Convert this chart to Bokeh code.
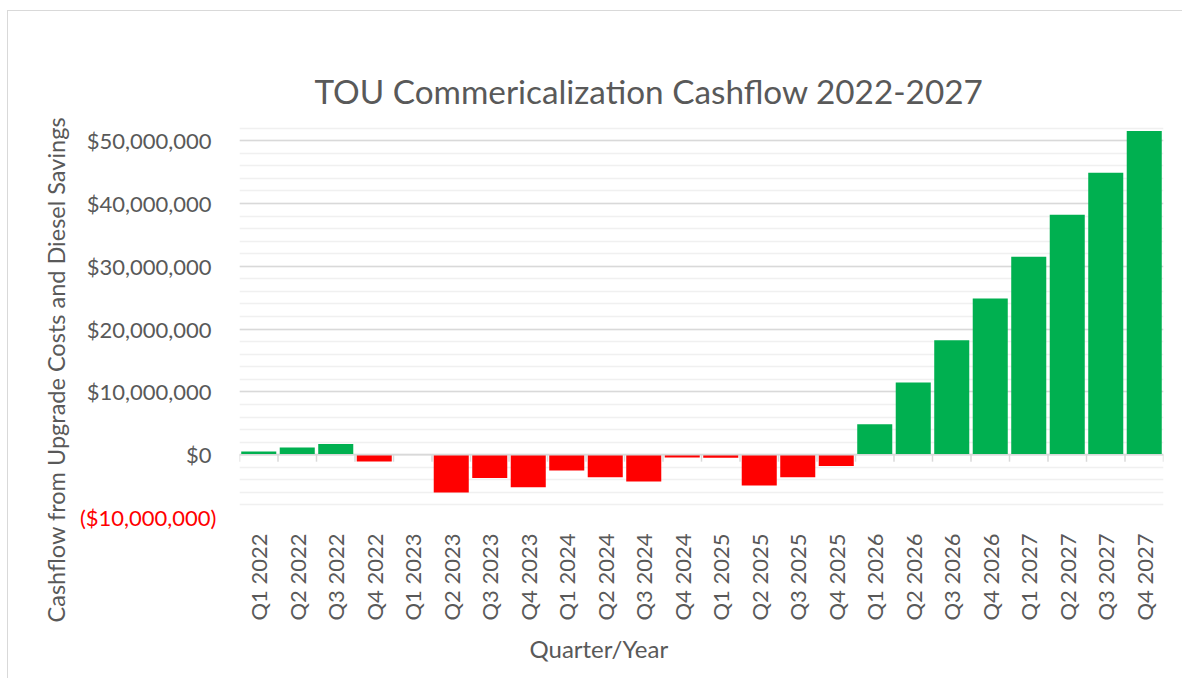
import math
from bokeh.plotting import figure
from bokeh.models import (FactorRange, Range1d, FixedTicker, CustomJSTickFormatter,
                          Span, ColumnDataSource, LinearAxis, Title)
from bokeh.transform import dodge
from bokeh.embed import file_html
from bokeh.resources import INLINE

# ---- data ----
quarters = ["Q1 2022", "Q2 2022", "Q3 2022", "Q4 2022",
            "Q1 2023", "Q2 2023", "Q3 2023", "Q4 2023",
            "Q1 2024", "Q2 2024", "Q3 2024", "Q4 2024",
            "Q1 2025", "Q2 2025", "Q3 2025", "Q4 2025",
            "Q1 2026", "Q2 2026", "Q3 2026", "Q4 2026",
            "Q1 2027", "Q2 2027", "Q3 2027", "Q4 2027"]
cashflow = [520000, 1160000, 1700000, -1070000,
            0, -6000000, -3700000, -5200000,
            -2500000, -3600000, -4250000, -430000,
            -500000, -4900000, -3600000, -1800000,
            4830000, 11500000, 18200000, 24850000,
            31500000, 38200000, 44900000, 51550000]
y_pos_ticks = [0, 10000000, 20000000, 30000000, 40000000, 50000000]
y_neg_ticks = [-10000000]
y_min, y_max = -10000000, 54000000

title_text = "TOU Commericalization Cashflow 2022-2027"
x_title = "Quarter/Year"
y_title = "Cashflow from Upgrade Costs and Diesel Savings"

FONT = "Lato"
GREY = "#595959"
GREEN = "#00B050"
RED = "#FF0000"
LBL = "22px"

colors = [GREEN if v >= 0 else RED for v in cashflow]
src = ColumnDataSource(dict(cat=quarters, top=cashflow, color=colors))

p = figure(width=1175, height=668, x_range=FactorRange(*quarters),
           y_range=Range1d(y_min, y_max), output_backend="svg",
           toolbar_location=None, tools="", y_axis_location=None,
           min_border_left=231, min_border_right=20,
           min_border_top=104, min_border_bottom=162)
p.outline_line_color = None
p.background_fill_color = "white"
p.border_fill_color = "white"
p.styles = {"margin-left": "7px", "margin-top": "10px",
            "border-left": "1px solid #d9d9d9", "border-top": "1px solid #d9d9d9"}

# title
p.title.text = title_text
p.title.text_font = FONT
p.title.text_font_size = "33.3px"
p.title.text_font_style = "normal"
p.title.text_color = GREY
p.title.align = "left"
p.title.offset = 75
p.title.standoff = 10

# blank spacer between plot area and title
p.add_layout(Title(text=" ", text_font=FONT, text_font_size="12px",
                   text_alpha=0, standoff=21), "above")

minor = list(range(y_min, y_max + 1, 2000000))
money = CustomJSTickFormatter(code="""
    if (tick < 0) { return "($" + Math.round(-tick).toLocaleString("en-US") + ")"; }
    if (tick == 0) { return "$0"; }
    return "$" + Math.round(tick).toLocaleString("en-US");
""")

def style_axis(ax, color, standoff):
    ax.axis_line_color = None
    ax.major_tick_line_color = None
    ax.minor_tick_line_color = None
    ax.major_tick_out = 0
    ax.minor_tick_out = 0
    ax.major_tick_in = 0
    ax.minor_tick_in = 0
    ax.major_label_standoff = standoff
    ax.major_label_text_font = FONT
    ax.major_label_text_font_size = LBL
    ax.major_label_text_color = color

# x axis (the category axis below the plot)
xax = p.below[0]
style_axis(xax, GREY, 16)
xax.major_label_orientation = math.pi / 2

# grey y axis (positive ticks) next to the plot area
yax = LinearAxis(ticker=FixedTicker(ticks=y_pos_ticks, minor_ticks=minor), formatter=money)
style_axis(yax, GREY, 28)
p.add_layout(yax, "left")
# red y axis for the negative tick, pulled back under the grey one
yneg = LinearAxis(ticker=FixedTicker(ticks=y_neg_ticks), formatter=money)
style_axis(yneg, RED, -133)
p.add_layout(yneg, "left")

# y axis title
p.add_layout(Title(text=y_title, align="left", offset=-105, standoff=14,
                   text_font=FONT, text_font_size="23.5px", text_font_style="normal",
                   text_color=GREY), "left")

# x axis title
p.add_layout(Title(text=x_title, align="left", offset=290, standoff=17,
                   text_font=FONT, text_font_size="24px", text_font_style="normal",
                   text_color=GREY), "below")

# grid
p.xgrid.grid_line_color = None
p.ygrid.ticker = FixedTicker(ticks=y_neg_ticks + y_pos_ticks, minor_ticks=minor)
p.ygrid.grid_line_color = "#d9d9d9"
p.ygrid.grid_line_width = 1.5
p.ygrid.minor_grid_line_color = "#f0f0f0"
p.ygrid.minor_grid_line_width = 1.5

# bars
p.vbar(x="cat", top="top", bottom=0, width=0.91, source=src,
       fill_color="color", line_color=None)

# category axis line at zero with boundary tick marks
p.add_layout(Span(location=0, dimension="width", line_color="#d9d9d9", line_width=1.5))
tick_len = 7 * (y_max - y_min) / 402.0
p.segment(x0=dodge("cat", -0.5, range=p.x_range), x1=dodge("cat", -0.5, range=p.x_range),
          y0=0, y1=-tick_len, source=ColumnDataSource(dict(cat=quarters)),
          line_color="#d9d9d9", line_width=1.5)
p.segment(x0=dodge("cat", 0.5, range=p.x_range), x1=dodge("cat", 0.5, range=p.x_range),
          y0=0, y1=-tick_len, source=ColumnDataSource(dict(cat=[quarters[-1]])),
          line_color="#d9d9d9", line_width=1.5)

open("out.html", "w").write(file_html(p, INLINE))
